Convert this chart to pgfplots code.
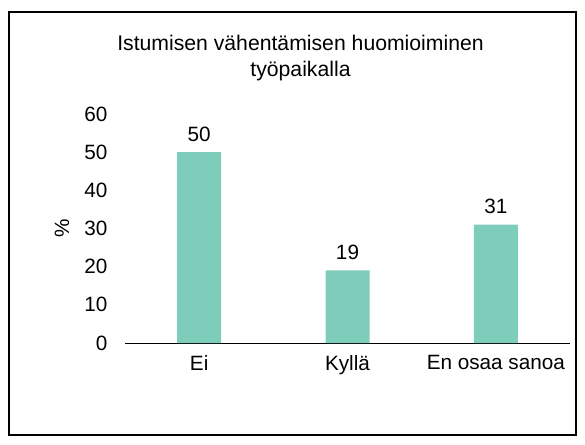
\documentclass[border=0pt]{standalone}
\usepackage{fontspec}
\setmainfont{Liberation Sans}
\usepackage{pgfplots}
\pgfplotsset{compat=1.18}
\definecolor{barc}{HTML}{7ECDBB}
\begin{document}
\begin{tikzpicture}[font=\fontsize{20.7}{24}\selectfont]
\useasboundingbox (0,0) rectangle (585pt,444pt);
\draw[line width=1.2pt] (9pt,9pt) rectangle (576pt,432pt);
\node[align=center, font=\fontsize{21.2}{26}\selectfont] at (300.5pt,386pt) {Istumisen vähentämisen huomioiminen\\työpaikalla};
\begin{axis}[
  at={(125pt,101pt)}, anchor=south west,
  scale only axis, width=445pt, height=229pt,
  xmin=-0.5, xmax=2.5, ymin=0, ymax=60,
  ytick={0,10,20,30,40,50,60},
  xtick={0,1,2}, xticklabels={Ei,Kyllä,En osaa sanoa},
  axis x line*=bottom, axis y line*=left,
  x axis line style={line width=1pt, -},
  y axis line style={draw=none},
  major tick length=0pt,
  yticklabel style={anchor=east, xshift=-14pt},
  xticklabel style={anchor=north, yshift=-9pt},
  /pgf/number format/assume math mode=true,
  ylabel={\%},
  ylabel style={at={(axis description cs:-0.1416,0.502)}, anchor=center, rotate=0},
  ybar, bar width=44pt,
  nodes near coords, nodes near coords style={yshift=7pt},
  clip=false,
]
\addplot[fill=barc, draw=none] coordinates {(0,50) (1,19) (2,31)};
\end{axis}
\end{tikzpicture}
\end{document}
